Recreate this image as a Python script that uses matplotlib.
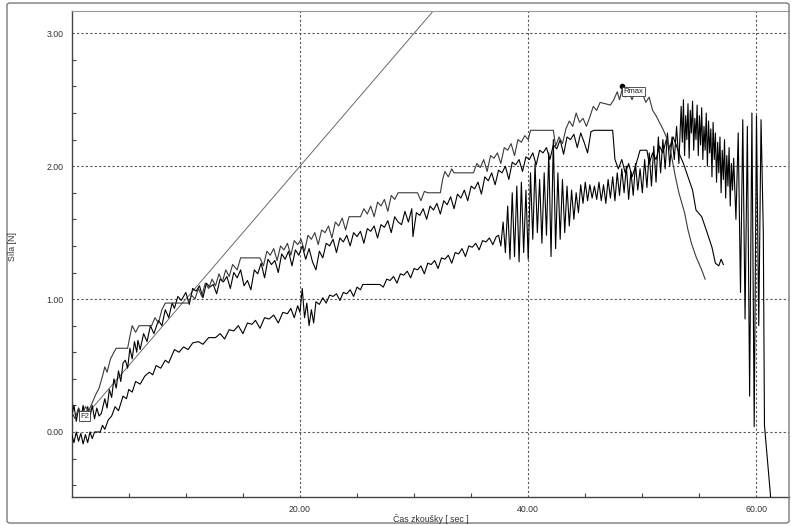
import matplotlib
matplotlib.use("Agg")
import matplotlib.pyplot as plt
from matplotlib.patches import FancyBboxPatch

plt.rcParams['font.family'] = ['Liberation Sans', 'DejaVu Sans']

# ---------------- data ----------------
xticks = [20, 40, 60]
xtick_labels = ["20.00", "40.00", "60.00"]
yticks = [0, 1, 2, 3]
ytick_labels = ["0.00", "1.00", "2.00", "3.00"]
x_label = "Čas zkoušky [ sec ]"
y_label = "Síla [N]"

# straight reference line
line_x = [1.5, 31.7]
line_y = [0.15, 3.17]

# curve A (reaches Rmax)
a_x = [0.0, 0.3, 0.6, 0.9, 1.2, 1.5, 1.8, 2.1, 2.4, 2.7, 2.9, 3.1, 3.4, 3.7, 3.9, 4.9, 5.1, 5.3, 5.6, 5.9,
       7.0, 7.3, 7.6, 7.9, 8.2, 10.2, 10.5, 10.8, 11.1, 11.4, 11.7, 12.0, 12.3, 12.6, 12.9, 13.2, 13.5, 13.8,
       14.1, 14.5, 14.8, 16.5, 16.8, 17.1, 17.4, 17.7, 18.0, 18.3, 18.6, 18.9, 19.2, 19.5, 19.8, 20.1, 20.4,
       20.7, 21.0, 21.3, 21.6, 21.9, 22.2, 22.5, 22.8, 23.1, 23.4, 23.7, 24.0, 24.3, 25.3, 25.6, 25.9, 26.2,
       26.5, 26.8, 27.1, 27.4, 27.7, 28.0, 28.3, 28.6, 30.3, 30.6, 30.9, 31.2, 32.3, 32.5, 32.7, 33.0, 33.3,
       33.5, 35.2, 35.5, 35.8, 36.1, 36.4, 36.7, 37.0, 37.3, 37.6, 37.9, 38.2, 38.5, 38.8, 39.1, 39.4, 39.7,
       40.0, 40.2, 42.2, 42.4, 42.7, 43.0, 43.3, 43.6, 43.9, 44.2, 44.5, 44.8, 45.1, 45.4, 45.7, 46.0, 46.3,
       47.2, 47.5, 47.8, 48.0, 48.3, 48.5, 48.8, 49.1, 49.4, 49.7, 50.0, 50.3, 50.6, 50.9, 51.2, 51.5, 51.8,
       52.1, 52.5, 52.9, 53.2, 53.7, 54.0, 54.3, 54.7, 55.2, 55.5]
a_y = [0.15, 0.10, 0.18, 0.12, 0.19, 0.16, 0.22, 0.28, 0.33, 0.42, 0.49, 0.45, 0.55, 0.60, 0.63, 0.63, 0.72, 0.80, 0.75, 0.80,
       0.80, 0.86, 0.82, 0.92, 0.97, 0.97, 1.03, 1.00, 1.08, 1.02, 1.12, 1.08, 1.15, 1.10, 1.19, 1.13, 1.22, 1.17,
       1.26, 1.22, 1.31, 1.31, 1.25, 1.36, 1.33, 1.38, 1.29, 1.40, 1.37, 1.42, 1.33, 1.44, 1.41, 1.45, 1.36,
       1.48, 1.45, 1.50, 1.41, 1.52, 1.50, 1.55, 1.46, 1.58, 1.55, 1.61, 1.52, 1.62, 1.62, 1.68, 1.64, 1.70,
       1.62, 1.73, 1.70, 1.75, 1.66, 1.78, 1.75, 1.80, 1.80, 1.74, 1.81, 1.80, 1.80, 1.90, 1.96, 1.92, 1.98,
       1.95, 1.95, 2.02, 1.99, 2.05, 1.96, 2.08, 2.06, 2.10, 2.02, 2.14, 2.12, 2.17, 2.08, 2.20, 2.18, 2.23,
       2.20, 2.27, 2.27, 2.15, 2.22, 2.17, 2.28, 2.34, 2.30, 2.40, 2.33, 2.36, 2.30, 2.37, 2.45, 2.42, 2.48,
       2.46, 2.50, 2.56, 2.50, 2.60, 2.52, 2.56, 2.50, 2.57, 2.53, 2.55, 2.48, 2.52, 2.42, 2.38, 2.33, 2.28,
       2.22, 2.10, 1.92, 1.80, 1.65, 1.52, 1.42, 1.32, 1.22, 1.15]

# curve B
b_x = [0.0, 0.2, 0.4, 0.6, 0.8, 1.0, 1.2, 1.4, 1.6, 1.8, 2.0, 2.2, 2.4, 2.6, 2.9, 3.1, 3.3, 3.5, 3.7, 3.9,
       4.1, 4.3, 4.5, 4.7, 4.9, 5.1, 5.3, 5.5, 5.7, 5.8, 6.0, 6.3, 6.6, 6.9, 7.2, 7.6, 7.9, 8.2, 8.5, 8.8,
       9.0, 9.3, 9.6, 10.0, 10.3, 10.6, 10.9, 11.2, 11.5, 11.8, 12.1, 12.4, 12.7, 13.0, 13.3, 13.6, 13.9,
       14.2, 14.5, 14.8, 15.1, 15.4, 15.7, 16.0, 16.3, 16.6, 16.9, 17.2, 17.5, 17.8, 18.1, 18.4, 18.7, 19.0,
       19.3, 19.6, 19.9, 20.2, 20.5, 20.8, 21.1, 21.4, 21.7, 22.0, 22.3, 22.6, 22.9, 23.2, 23.5, 23.8, 24.1,
       24.4, 24.7, 25.0, 25.3, 25.6, 25.9, 26.2, 26.5, 26.8, 27.1, 27.4, 27.7, 28.0, 28.3, 28.6, 28.9, 29.2,
       29.5, 29.8, 29.9, 30.2, 30.5, 30.8, 31.1, 31.4, 31.7, 32.0, 32.3, 32.6, 32.9, 33.2, 33.5, 33.8, 34.1,
       34.4, 34.7, 35.0, 35.3, 35.6, 35.9, 36.2, 36.5, 36.8, 37.1, 37.4, 37.7, 38.0, 38.3, 38.6, 38.9, 39.2,
       39.5, 39.8, 40.1, 40.4, 40.7, 41.0, 41.3, 41.6, 41.9, 42.2, 42.5, 42.8, 43.1, 43.4, 43.7, 44.0, 44.3,
       44.6, 44.9, 45.2, 45.5, 45.8, 47.4, 47.6, 47.9, 48.2, 48.5, 48.8, 49.1, 49.4, 49.8, 50.4, 50.6, 50.9,
       51.2, 51.5, 51.8, 52.1, 52.4, 52.7, 53.0, 53.3, 53.6, 54.0, 54.4, 54.7, 55.2, 55.6, 56.1, 56.4, 56.7,
       56.9, 57.1]
b_y = [0.12, 0.20, 0.08, 0.18, 0.10, 0.20, 0.09, 0.19, 0.11, 0.20, 0.10, 0.18, 0.12, 0.14, 0.25, 0.18, 0.32, 0.26, 0.40, 0.33,
       0.46, 0.38, 0.52, 0.54, 0.48, 0.63, 0.55, 0.68, 0.60, 0.69, 0.62, 0.74, 0.68, 0.80, 0.74, 0.84, 0.80, 0.92, 0.86, 0.97,
       0.93, 1.02, 0.99, 1.05, 0.96, 1.08, 1.06, 1.10, 1.01, 1.12, 1.09, 1.11, 1.04, 1.15, 1.13, 1.17, 1.08,
       1.20, 1.16, 1.22, 1.10, 1.14, 1.07, 1.22, 1.19, 1.27, 1.16, 1.30, 1.26, 1.29, 1.20, 1.34, 1.30, 1.36,
       1.25, 1.37, 1.33, 1.40, 1.30, 1.38, 1.28, 1.22, 1.36, 1.31, 1.42, 1.40, 1.45, 1.35, 1.46, 1.43, 1.48,
       1.40, 1.50, 1.47, 1.51, 1.42, 1.53, 1.51, 1.55, 1.46, 1.56, 1.54, 1.59, 1.50, 1.62, 1.58, 1.56, 1.66,
       1.58, 1.68, 1.47, 1.65, 1.63, 1.68, 1.60, 1.70, 1.67, 1.72, 1.64, 1.74, 1.71, 1.77, 1.68, 1.79, 1.76,
       1.82, 1.74, 1.85, 1.83, 1.88, 1.79, 1.92, 1.89, 1.95, 1.86, 1.97, 1.95, 2.00, 1.90, 2.03, 2.01, 2.05,
       1.96, 2.07, 2.05, 2.10, 2.01, 2.12, 2.10, 2.14, 2.05, 2.16, 2.13, 2.20, 2.09, 2.22, 2.20, 2.24, 2.14,
       2.25, 2.18, 2.10, 2.26, 2.27, 2.27, 2.05, 1.98, 2.05, 1.95, 2.02, 1.92, 2.00, 2.12, 2.12, 2.02, 2.10,
       2.05, 2.15, 2.10, 2.20, 2.14, 2.22, 2.15, 2.08, 2.02, 1.92, 1.82, 1.67, 1.62, 1.52, 1.39, 1.27, 1.25,
       1.30, 1.26]

# curve C (lowest, runs to break)
c_x = [0.0, 0.2, 0.4, 0.6, 0.8, 1.0, 1.2, 1.4, 1.6, 1.8, 2.0, 2.5, 2.7, 2.9, 3.2, 3.5, 3.8, 4.1, 4.5, 4.8,
       5.0, 5.3, 5.6, 6.0, 6.4, 6.8, 7.1, 7.4, 7.8, 8.2, 8.5, 9.0, 9.4, 9.8, 10.2, 10.6, 11.1, 11.5, 12.0,
       12.6, 13.0, 13.4, 13.8, 14.2, 14.6, 15.0, 15.4, 15.8, 16.1, 16.5, 16.9, 17.3, 17.7, 18.1, 18.5, 18.9,
       19.2, 19.5, 19.8, 20.0, 20.2, 20.4, 20.6, 20.8, 21.0, 21.2, 21.4, 21.7, 22.0, 22.3, 22.6, 22.9, 23.2,
       23.5, 23.8, 24.1, 24.4, 24.7, 25.0, 25.3, 25.5, 27.0, 27.3, 27.6, 27.9, 28.2, 28.5, 28.8, 29.1, 29.4,
       29.7, 30.0, 30.3, 30.6, 30.9, 31.2, 31.5, 31.8, 32.1, 32.4, 32.7, 33.0, 33.3, 33.6, 33.9, 34.2, 34.5,
       34.8, 35.1, 35.4, 35.7, 36.0, 36.3, 36.6, 36.9, 37.2, 37.4, 37.6, 37.8, 38.0, 38.2, 38.4, 38.6, 38.8,
       39.0, 39.2, 39.4, 39.6, 39.8, 40.0, 40.2, 40.4, 40.6, 40.8, 41.0, 41.2, 41.4, 41.6, 41.8, 42.0, 42.2,
       42.4, 42.6, 42.8, 43.0, 43.2, 43.4, 43.6, 43.8, 44.0, 44.2, 44.4, 44.6, 44.8, 45.0, 45.2, 45.4, 45.6,
       45.8, 46.0, 46.2, 46.4, 46.6, 46.8, 47.0, 47.2, 47.4, 47.6, 47.8, 48.0, 48.2, 48.4, 48.6, 48.8, 49.0,
       49.2, 49.4, 49.6, 49.8, 50.0, 50.2, 50.4, 50.6, 50.8, 51.0, 51.2, 51.4, 51.6, 51.8, 52.0, 52.2, 52.4,
       52.6, 52.8, 53.0, 53.2, 53.4, 53.5, 53.6, 53.7, 53.8, 53.9, 54.0, 54.1, 54.2, 54.3, 54.4, 54.5, 54.6,
       54.7, 54.8, 54.9, 55.0, 55.1, 55.2, 55.3, 55.4, 55.5, 55.6, 55.7, 55.8, 55.9, 56.0, 56.1, 56.2, 56.3,
       56.4, 56.5, 56.6, 56.7, 56.8, 56.9, 57.0, 57.1, 57.2, 57.3, 57.4, 57.5, 57.6, 57.7, 57.8, 57.9, 58.0,
       58.2, 58.4, 58.6, 58.8, 59.0, 59.2, 59.4, 59.6, 59.8, 60.0, 60.2, 60.4, 60.6, 60.7, 61.0, 61.3]
c_y = [-0.02, -0.08, 0.00, -0.07, -0.01, -0.09, -0.02, -0.08, 0.00, -0.05, 0.00, 0.00, 0.05, 0.02, 0.09, 0.12, 0.19, 0.16, 0.27, 0.25,
       0.32, 0.30, 0.38, 0.36, 0.42, 0.45, 0.43, 0.50, 0.48, 0.54, 0.52, 0.62, 0.60, 0.64, 0.62, 0.67, 0.68, 0.66, 0.71,
       0.71, 0.74, 0.70, 0.77, 0.76, 0.80, 0.74, 0.82, 0.81, 0.84, 0.78, 0.86, 0.85, 0.88, 0.82, 0.90, 0.89,
       0.93, 0.86, 0.95, 0.90, 1.08, 0.86, 0.97, 0.80, 0.92, 0.82, 0.98, 0.96, 1.01, 0.97, 1.03, 1.02, 1.04,
       0.99, 1.05, 1.04, 1.07, 1.02, 1.09, 1.07, 1.11, 1.11, 1.09, 1.15, 1.14, 1.17, 1.12, 1.19, 1.18, 1.21,
       1.16, 1.23, 1.22, 1.25, 1.19, 1.27, 1.26, 1.29, 1.23, 1.31, 1.30, 1.33, 1.27, 1.35, 1.34, 1.38, 1.32,
       1.40, 1.39, 1.42, 1.37, 1.44, 1.43, 1.46, 1.41, 1.47, 1.48, 1.40, 1.58, 1.35, 1.70, 1.30, 1.80, 1.32,
       1.85, 1.28, 1.88, 1.35, 1.82, 1.30, 1.95, 1.45, 2.02, 1.50, 1.90, 1.42, 1.95, 1.48, 2.10, 1.32, 2.20,
       1.38, 1.95, 1.45, 1.90, 1.50, 1.85, 1.55, 1.82, 1.60, 1.80, 1.65, 1.86, 1.72, 1.88, 1.74, 1.86, 1.76,
       1.85, 1.75, 1.88, 1.74, 1.86, 1.72, 1.90, 1.76, 1.92, 1.74, 1.95, 1.78, 1.98, 1.80, 2.00, 1.75, 1.96,
       1.78, 2.02, 1.82, 1.98, 1.80, 2.05, 1.84, 2.10, 1.85, 2.15, 1.88, 2.22, 1.95, 2.20, 1.98, 2.25, 2.00,
       2.22, 2.05, 2.30, 2.02, 2.45, 2.18, 2.50, 2.08, 2.38, 2.20, 2.47, 2.06, 2.42, 2.25, 2.49, 2.12, 2.36,
       2.20, 2.46, 2.08, 2.38, 2.16, 2.44, 2.05, 2.30, 2.12, 2.40, 2.00, 2.34, 2.10, 2.28, 1.92, 2.33, 2.05,
       2.25, 1.88, 2.18, 1.95, 2.22, 1.80, 2.12, 1.90, 2.20, 1.76, 2.08, 1.85, 2.14, 1.70, 2.02, 1.82, 2.06,
       1.60, 2.25, 1.05, 2.35, 0.85, 2.30, 0.27, 2.40, 0.04, 2.38, 0.80, 2.35, 1.50, 0.05, -0.25, -0.55]

# annotations
rmax_x, rmax_y = 48.2, 2.605
f2_x, f2_y = 0.75, 0.12

# ---------------- figure ----------------
W, H = 791, 525
fig = plt.figure(figsize=(W / 100, H / 100), dpi=100)
fig.patch.set_facecolor("white")

# outer rounded frame
frame = FancyBboxPatch((7 / W, 2 / H), (782 / W), (520 / H),
                       boxstyle="round,pad=0,rounding_size=0.004",
                       transform=fig.transFigure, fill=False,
                       edgecolor="#7a7a7a", linewidth=1.0)
fig.patches.append(frame)

ax = fig.add_axes([71.7 / W, 28.3 / H, (789 - 71.7) / W, (497 - 11) / H])
ax.set_xlim(0, 62.85)
ax.set_ylim(-0.487, 3.17)

grid_kw = dict(color="#555555", linewidth=0.8, linestyle=(0, (2, 2)), zorder=1)
for gx in xticks:
    ax.axvline(gx, **grid_kw)
for gy in yticks:
    ax.axhline(gy, **grid_kw)

ax.plot(line_x, line_y, color="#6a6a6a", linewidth=0.7, zorder=2)
ax.plot(c_x, c_y, color="black", linewidth=0.8, zorder=3)
ax.plot(b_x, b_y, color="black", linewidth=0.8, zorder=3)
ax.plot(a_x, a_y, color="#3a3a3a", linewidth=0.8, zorder=3)

# Rmax marker and label
ax.plot([rmax_x], [rmax_y], marker="o", markersize=3, color="black", zorder=5)
ax.text(rmax_x + 0.15, rmax_y - 0.015, "Rmax", fontsize=5.5, ha="left", va="top",
        color="#222222", zorder=6,
        bbox=dict(boxstyle="square,pad=0.15", facecolor="white", edgecolor="#333333", linewidth=0.6))
# F2 label
ax.text(f2_x, f2_y, "F2", fontsize=5.5, ha="left", va="center", color="#222222", zorder=6,
        bbox=dict(boxstyle="square,pad=0.15", facecolor="white", edgecolor="#333333", linewidth=0.6))

# ticks
ax.set_xticks(xticks)
ax.set_xticklabels(xtick_labels)
ax.set_yticks(yticks)
ax.set_yticklabels(ytick_labels)
ax.set_xticks([5, 10, 15, 25, 30, 35, 45, 50, 55], minor=True)
ax.set_yticks([-0.4, -0.2, 0.2, 0.4, 0.6, 0.8, 1.2, 1.4, 1.6, 1.8, 2.2, 2.4, 2.6, 2.8], minor=True)
ax.tick_params(axis="both", which="major", length=0, labelsize=6.3, labelcolor="#333333", pad=6)
ax.tick_params(axis="both", which="minor", direction="in", length=3, width=0.8, color="#444444")

for side in ("left", "bottom"):
    ax.spines[side].set_color("#444444")
    ax.spines[side].set_linewidth(1.0)
ax.spines["top"].set_color("#9a9a9a")
ax.spines["top"].set_linewidth(0.8)
ax.spines["right"].set_visible(False)

fig.text(431 / W, 1 - 519 / H, x_label, fontsize=6.3, color="#333333", ha="center", va="center")
fig.text(13 / W, 1 - 247 / H, y_label, fontsize=6.3, color="#333333", ha="center", va="center",
         rotation=90)

fig.savefig("out.png", dpi=100, facecolor="white")
